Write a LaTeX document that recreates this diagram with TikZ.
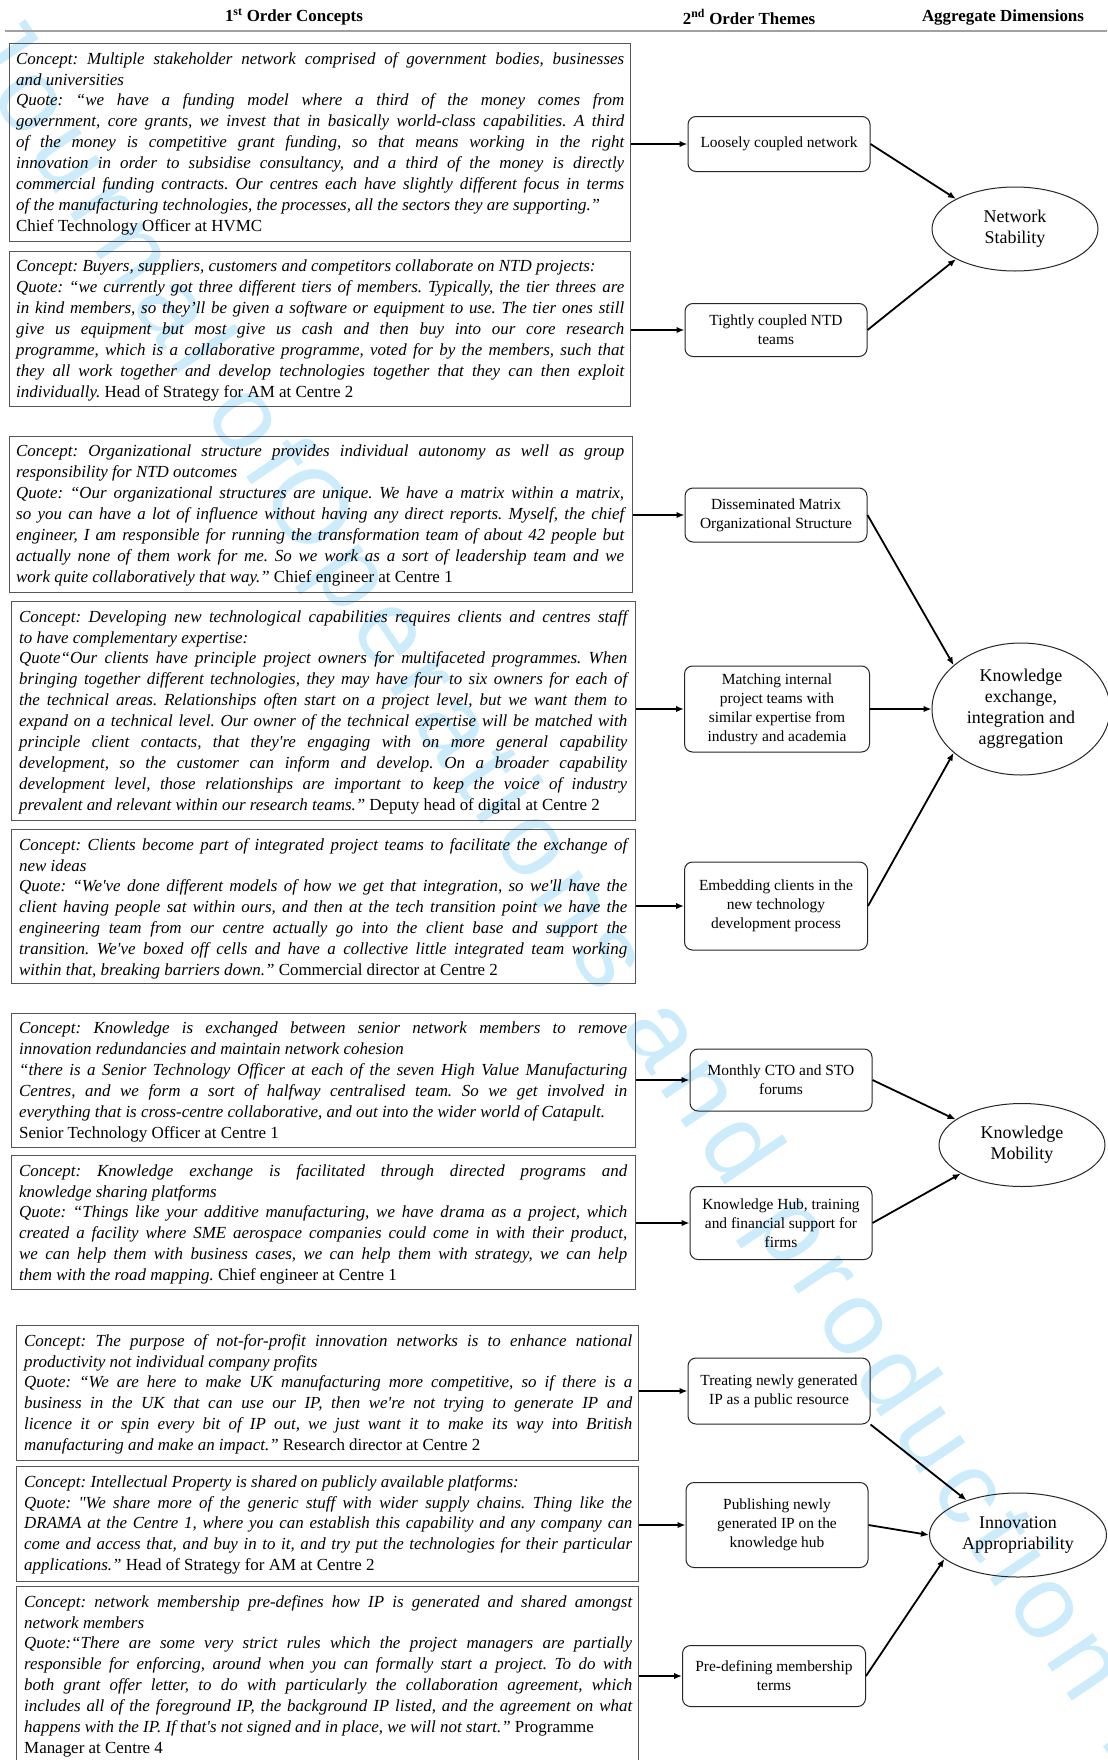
\documentclass[tikz,border=0pt]{standalone}
\usepackage{fontspec}
\setmainfont{Liberation Serif}
\newfontfamily\wmfont{Liberation Sans}[LetterSpace=10]
\usetikzlibrary{shapes.geometric,arrows.meta}
\definecolor{wmblue}{RGB}{205,236,251}
\definecolor{boxgray}{RGB}{85,85,85}
\definecolor{hdrgray}{RGB}{160,160,160}
\newcommand{\sq}{\textquotesingle}
\tikzset{
  cbox/.style={draw=boxgray, line width=1.3bp, anchor=north west, inner sep=0pt},
  ctext/.style={anchor=north west, text width=608bp, align=justify, inner sep=0pt,
    font=\fontsize{17}{21}\selectfont\itshape\setlength\parindent{0pt}\frenchspacing},
  theme/.style={draw=black!85, rounded corners=8bp, line width=1bp, align=center,
    font=\fontsize{15.5}{19}\selectfont, minimum width=182bp, inner sep=2bp},
  dim/.style={ellipse, draw=black!85, line width=1bp, align=center,
    font=\fontsize{18}{21}\selectfont, inner sep=0pt},
  arr/.style={-{Latex[length=8bp,width=6.5bp]}, line width=1.8bp},
  hdr/.style={font=\fontsize{17}{20}\selectfont\bfseries, inner sep=0pt},
  wm/.style={font=\wmfont\fontsize{105}{110}\selectfont, text=wmblue, rotate=-56, inner sep=0pt},
}
\begin{document}
\begin{tikzpicture}[x=1bp,y=-1bp]
\useasboundingbox (0,0) rectangle (1107,1760);
\fill[white] (0,0) rectangle (1107,1760);
% watermark
\begin{scope}
\clip (0,0) rectangle (1107,1760);
\node[wm] (wmB) at (690,1085) {Operations and production};
\node[wm, anchor=base east] (wmA) at (wmB.base west) {International Journal of\ };
\node[wm, anchor=base west] (wmC) at (wmB.base east) {\ Management};
\end{scope}
% headers
\node[hdr] (h1) at (294,17) {1\textsuperscript{st} Order Concepts};
\node[hdr] (h2) at (749,17) {2\textsuperscript{nd} Order Themes};
\node[hdr] (h3) at (1003,17) {Aggregate Dimensions};
\draw[hdrgray, line width=1.5bp] (5,31) -- (1107,31);

% ---------- concept boxes ----------
\node[cbox, minimum width=621bp, minimum height=198bp] (b1) at (9,43) {};
\node[ctext] (t1) at ([shift={(7,9)}]b1.north west) {Concept: Multiple stakeholder network comprised of government bodies, businesses\linebreak
and universities\newline
Quote: “we have a funding model where a third of the money comes from\linebreak
government, core grants, we invest that in basically world-class capabilities. A third\linebreak
of the money is competitive grant funding, so that means working in the right\linebreak
innovation in order to subsidise consultancy, and a third of the money is directly\linebreak
commercial funding contracts. Our centres each have slightly different focus in terms\linebreak
of the manufacturing technologies, the processes, all the sectors they are supporting.”\newline
{\upshape Chief Technology Officer at HVMC}};

\node[cbox, minimum width=621bp, minimum height=155bp] (b2) at (9,251) {};
\node[ctext] (t2) at ([shift={(7,9)}]b2.north west) {Concept: Buyers, suppliers, customers and competitors collaborate on NTD projects:\newline
Quote: “we currently got three different tiers of members. Typically, the tier threes are\linebreak
in kind members, so they’ll be given a software or equipment to use. The tier ones still\linebreak
give us equipment but most give us cash and then buy into our core research\linebreak
programme, which is a collaborative programme, voted for by the members, such that\linebreak
they all work together and develop technologies together that they can then exploit\linebreak
individually. {\upshape Head of Strategy for AM at Centre 2}};

\node[cbox, minimum width=623bp, minimum height=156bp] (b3) at (9,436) {};
\node[ctext] (t3) at ([shift={(7,9)}]b3.north west) {Concept: Organizational structure provides individual autonomy as well as group\linebreak
responsibility for NTD outcomes\newline
Quote: “Our organizational structures are unique. We have a matrix within a matrix,\linebreak
so you can have a lot of influence without having any direct reports. Myself, the chief\linebreak
engineer, I am responsible for running the transformation team of about 42 people but\linebreak
actually none of them work for me. So we work as a sort of leadership team and we\linebreak
work quite collaboratively that way.” {\upshape Chief engineer at Centre 1}};

\node[cbox, minimum width=624bp, minimum height=219bp] (b4) at (11,601) {};
\node[ctext] (t4) at ([shift={(8,9)}]b4.north west) {Concept: Developing new technological capabilities requires clients and centres staff\linebreak
to have complementary expertise:\newline
Quote“Our clients have principle project owners for multifaceted programmes. When\linebreak
bringing together different technologies, they may have four to six owners for each of\linebreak
the technical areas. Relationships often start on a project level, but we want them to\linebreak
expand on a technical level. Our owner of the technical expertise will be matched with\linebreak
principle client contacts, that they\sq re engaging with on more general capability\linebreak
development, so the customer can inform and develop. On a broader capability\linebreak
development level, those relationships are important to keep the voice of industry\linebreak
prevalent and relevant within our research teams.” {\upshape Deputy head of digital at Centre 2}};

\node[cbox, minimum width=624bp, minimum height=154bp] (b5) at (11,829) {};
\node[ctext] (t5) at ([shift={(8,9)}]b5.north west) {Concept: Clients become part of integrated project teams to facilitate the exchange of\linebreak
new ideas\newline
Quote: “We\sq ve done different models of how we get that integration, so we\sq ll have the\linebreak
client having people sat within ours, and then at the tech transition point we have the\linebreak
engineering team from our centre actually go into the client base and support the\linebreak
transition. We\sq ve boxed off cells and have a collective little integrated team working\linebreak
within that, breaking barriers down.” {\upshape Commercial director at Centre 2}};

\node[cbox, minimum width=624bp, minimum height=134bp] (b6) at (11,1013) {};
\node[ctext] (t6) at ([shift={(8,9)}]b6.north west) {Concept: Knowledge is exchanged between senior network members to remove\linebreak
innovation redundancies and maintain network cohesion\newline
“there is a Senior Technology Officer at each of the seven High Value Manufacturing\linebreak
Centres, and we form a sort of halfway centralised team. So we get involved in\linebreak
everything that is cross-centre collaborative, and out into the wider world of Catapult.\newline
{\upshape Senior Technology Officer at Centre 1}};

\node[cbox, minimum width=624bp, minimum height=134bp] (b7) at (11,1155) {};
\node[ctext] (t7) at ([shift={(8,9)}]b7.north west) {Concept: Knowledge exchange is facilitated through directed programs and\linebreak
knowledge sharing platforms\newline
Quote: “Things like your additive manufacturing, we have drama as a project, which\linebreak
created a facility where SME aerospace companies could come in with their product,\linebreak
we can help them with business cases, we can help them with strategy, we can help\linebreak
them with the road mapping. {\upshape Chief engineer at Centre 1}};

\node[cbox, minimum width=622bp, minimum height=135bp] (b8) at (16,1325) {};
\node[ctext] (t8) at ([shift={(8,9)}]b8.north west) {Concept: The purpose of not-for-profit innovation networks is to enhance national\linebreak
productivity not individual company profits\newline
Quote: “We are here to make UK manufacturing more competitive, so if there is a\linebreak
business in the UK that can use our IP, then we\sq re not trying to generate IP and\linebreak
licence it or spin every bit of IP out, we just want it to make its way into British\linebreak
manufacturing and make an impact.” {\upshape Research director at Centre 2}};

\node[cbox, minimum width=622bp, minimum height=115bp] (b9) at (16,1466) {};
\node[ctext] (t9) at ([shift={(8,9)}]b9.north west) {Concept: Intellectual Property is shared on publicly available platforms:\newline
Quote: \textquotedbl We share more of the generic stuff with wider supply chains. Thing like the\linebreak
DRAMA at the Centre 1, where you can establish this capability and any company can\linebreak
come and access that, and buy in to it, and try put the technologies for their particular\linebreak
applications.” {\upshape Head of Strategy for AM at Centre 2}};

\node[cbox, minimum width=622bp, minimum height=178bp] (b10) at (16,1586) {};
\node[ctext] (t10) at ([shift={(8,9)}]b10.north west) {Concept: network membership pre-defines how IP is generated and shared amongst\linebreak
network members\newline
Quote:“There are some very strict rules which the project managers are partially\linebreak
responsible for enforcing, around when you can formally start a project. To do with\linebreak
both grant offer letter, to do with particularly the collaboration agreement, which\linebreak
includes all of the foreground IP, the background IP listed, and the agreement on what\linebreak
happens with the IP. If that\sq s not signed and in place, we will not start.” {\upshape Programme}\newline
{\upshape Manager at Centre 4}};

% ---------- themes ----------
\node[theme, minimum height=55bp] (m1) at (779,144) {Loosely coupled network};
\node[theme, minimum height=53bp] (m2) at (776,330) {Tightly coupled NTD\\teams};
\node[theme, minimum height=54bp] (m3) at (776,515) {Disseminated Matrix\\Organizational Structure};
\node[theme, minimum height=86bp, minimum width=185bp] (m4) at (777,709) {Matching internal\\project teams with\\similar expertise from\\industry and academia};
\node[theme, minimum height=88bp, minimum width=183bp] (m5) at (776,906) {Embedding clients in the\\new technology\\development process};
\node[theme, minimum height=62bp] (m6) at (781,1080) {Monthly CTO and STO\\forums};
\node[theme, minimum height=73bp] (m7) at (781,1223) {Knowledge Hub, training\\and financial support for\\firms};
\node[theme, minimum height=66bp] (m8) at (779,1391) {Treating newly generated\\IP as a public resource};
\node[theme, minimum height=85bp] (m9) at (777,1525) {Publishing newly\\generated IP on the\\knowledge hub};
\node[theme, minimum height=61bp, minimum width=183bp] (m10) at (774,1676) {Pre-defining membership\\terms};

% ---------- dimensions ----------
\node[dim, minimum width=166bp, minimum height=84bp] (e1) at (1015,229) {Network\\Stability};
\node[dim, minimum width=178bp, minimum height=132bp] (e2) at (1021,709) {Knowledge\\exchange,\\integration and\\aggregation};
\node[dim, minimum width=166bp, minimum height=83bp] (e3) at (1022,1145) {Knowledge\\Mobility};
\node[dim, minimum width=177bp, minimum height=84bp] (e4) at (1018,1535) {Innovation\\Appropriability};

% ---------- connectors ----------
\draw[arr] (b1.east |- m1.west) -- (m1.west);
\draw[arr] (b2.east |- m2.west) -- (m2.west);
\draw[arr] (b3.east |- m3.west) -- (m3.west);
\draw[arr] (b4.east |- m4.west) -- (m4.west);
\draw[arr] (b5.east |- m5.west) -- (m5.west);
\draw[arr] (b6.east |- m6.west) -- (m6.west);
\draw[arr] (b7.east |- m7.west) -- (m7.west);
\draw[arr] (b8.east |- m8.west) -- (m8.west);
\draw[arr] (b9.east |- m9.west) -- (m9.west);
\draw[arr] (b10.east |- m10.west) -- (m10.west);

\draw[arr] (m1.east) -- (e1.153);
\draw[arr] (m2.east) -- (e1.207);
\draw[arr] (m3.east) -- (e2.147);
\draw[arr] (m4.east) -- (e2.west);
\draw[arr] (m5.east) -- (e2.213);
\draw[arr] (m6.east) -- (e3.159);
\draw[arr] (m7.east) -- (e3.205);
\draw[arr] (m8.south east) -- (e4.146);
\draw[arr] (m9.east) -- (e4.west);
\draw[arr] (m10.east) -- (e4.198);
\end{tikzpicture}
\end{document}
